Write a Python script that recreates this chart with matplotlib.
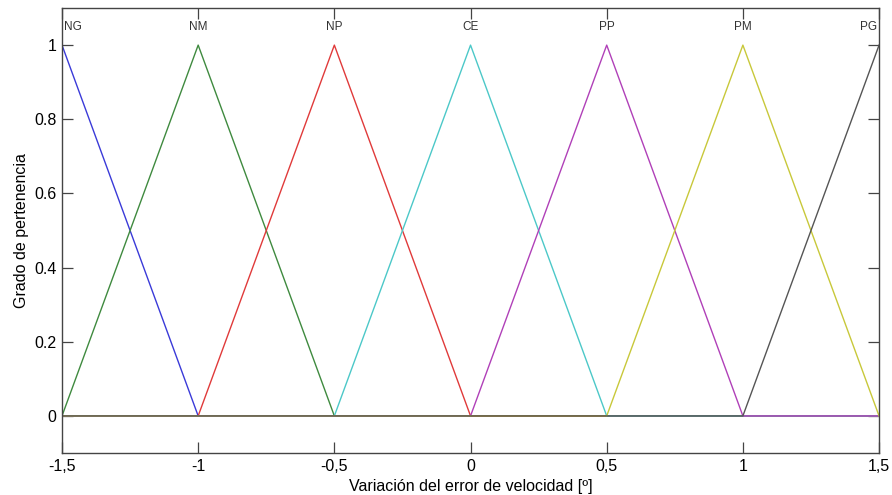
import numpy as np
import matplotlib
matplotlib.use("Agg")
import matplotlib.pyplot as plt
from matplotlib.ticker import FixedLocator, FixedFormatter

plt.rcParams['font.family'] = ['Liberation Sans', 'DejaVu Sans']

# membership functions (trimf params a, b, c)
mfNames = ["NG", "NM", "NP", "CE", "PP", "PM", "PG"]
mfA = [-2.0, -1.5, -1.0, -0.5, 0.0, 0.5, 1.0]
mfB = [-1.5, -1.0, -0.5, 0.0, 0.5, 1.0, 1.5]
mfC = [-1.0, -0.5, 0.0, 0.5, 1.0, 1.5, 2.0]
mfColors = ["#3a3ad8", "#3f8a3f", "#e03a3a", "#4cc8c8", "#b040b8", "#c8c83a", "#555555"]

xRange = [-1.5, 1.5]
xTicks = [-1.5, -1.0, -0.5, 0.0, 0.5, 1.0, 1.5]
xTickLabels = ["-1,5", "-1", "-0,5", "0", "0,5", "1", "1,5"]
yTicks = [0, 0.2, 0.4, 0.6, 0.8, 1]
yTickLabels = ["0", "0.2", "0.4", "0.6", "0.8", "1"]

fig = plt.figure(figsize=(8.92, 4.95), dpi=100)
ax = fig.add_axes([0.0695, 0.0848, 0.916, 0.899])

for name, a, b, c, col in zip(mfNames, mfA, mfB, mfC, mfColors):
    # evaluate the triangle at the domain ends and its own corners
    pts = np.clip([xRange[0], a, b, c, xRange[1]], xRange[0], xRange[1])
    vals = np.interp(pts, [a, b, c], [0, 1, 0], left=0, right=0)
    ax.plot(pts, vals, color=col, lw=1.0)
    ha = "center"
    if b <= xRange[0]:
        ha = "left"
    elif b >= xRange[1]:
        ha = "right"
    xt = b + (0.008 if ha == "left" else -0.008 if ha == "right" else 0)
    ax.text(xt, 1.05, name, ha=ha, va="center", fontsize=8.5, color="#333333")

ax.set_xlim(xRange)
ax.set_ylim(-0.1, 1.1)
ax.xaxis.set_major_locator(FixedLocator(xTicks))
ax.xaxis.set_major_formatter(FixedFormatter(xTickLabels))
ax.yaxis.set_major_locator(FixedLocator(yTicks))
ax.yaxis.set_major_formatter(FixedFormatter(yTickLabels))
ax.tick_params(direction="in", top=True, right=True, length=8, width=0.9,
               color="#444444", labelsize=11.5, pad=4)

for sp in ax.spines.values():
    sp.set_color("#444444")
    sp.set_linewidth(1.0)

ax.set_xlabel("Variación del error de velocidad [º]", fontsize=11.5, labelpad=4)
ax.set_ylabel("Grado de pertenencia", fontsize=11.5, labelpad=4)

fig.savefig("out.png", dpi=100)
